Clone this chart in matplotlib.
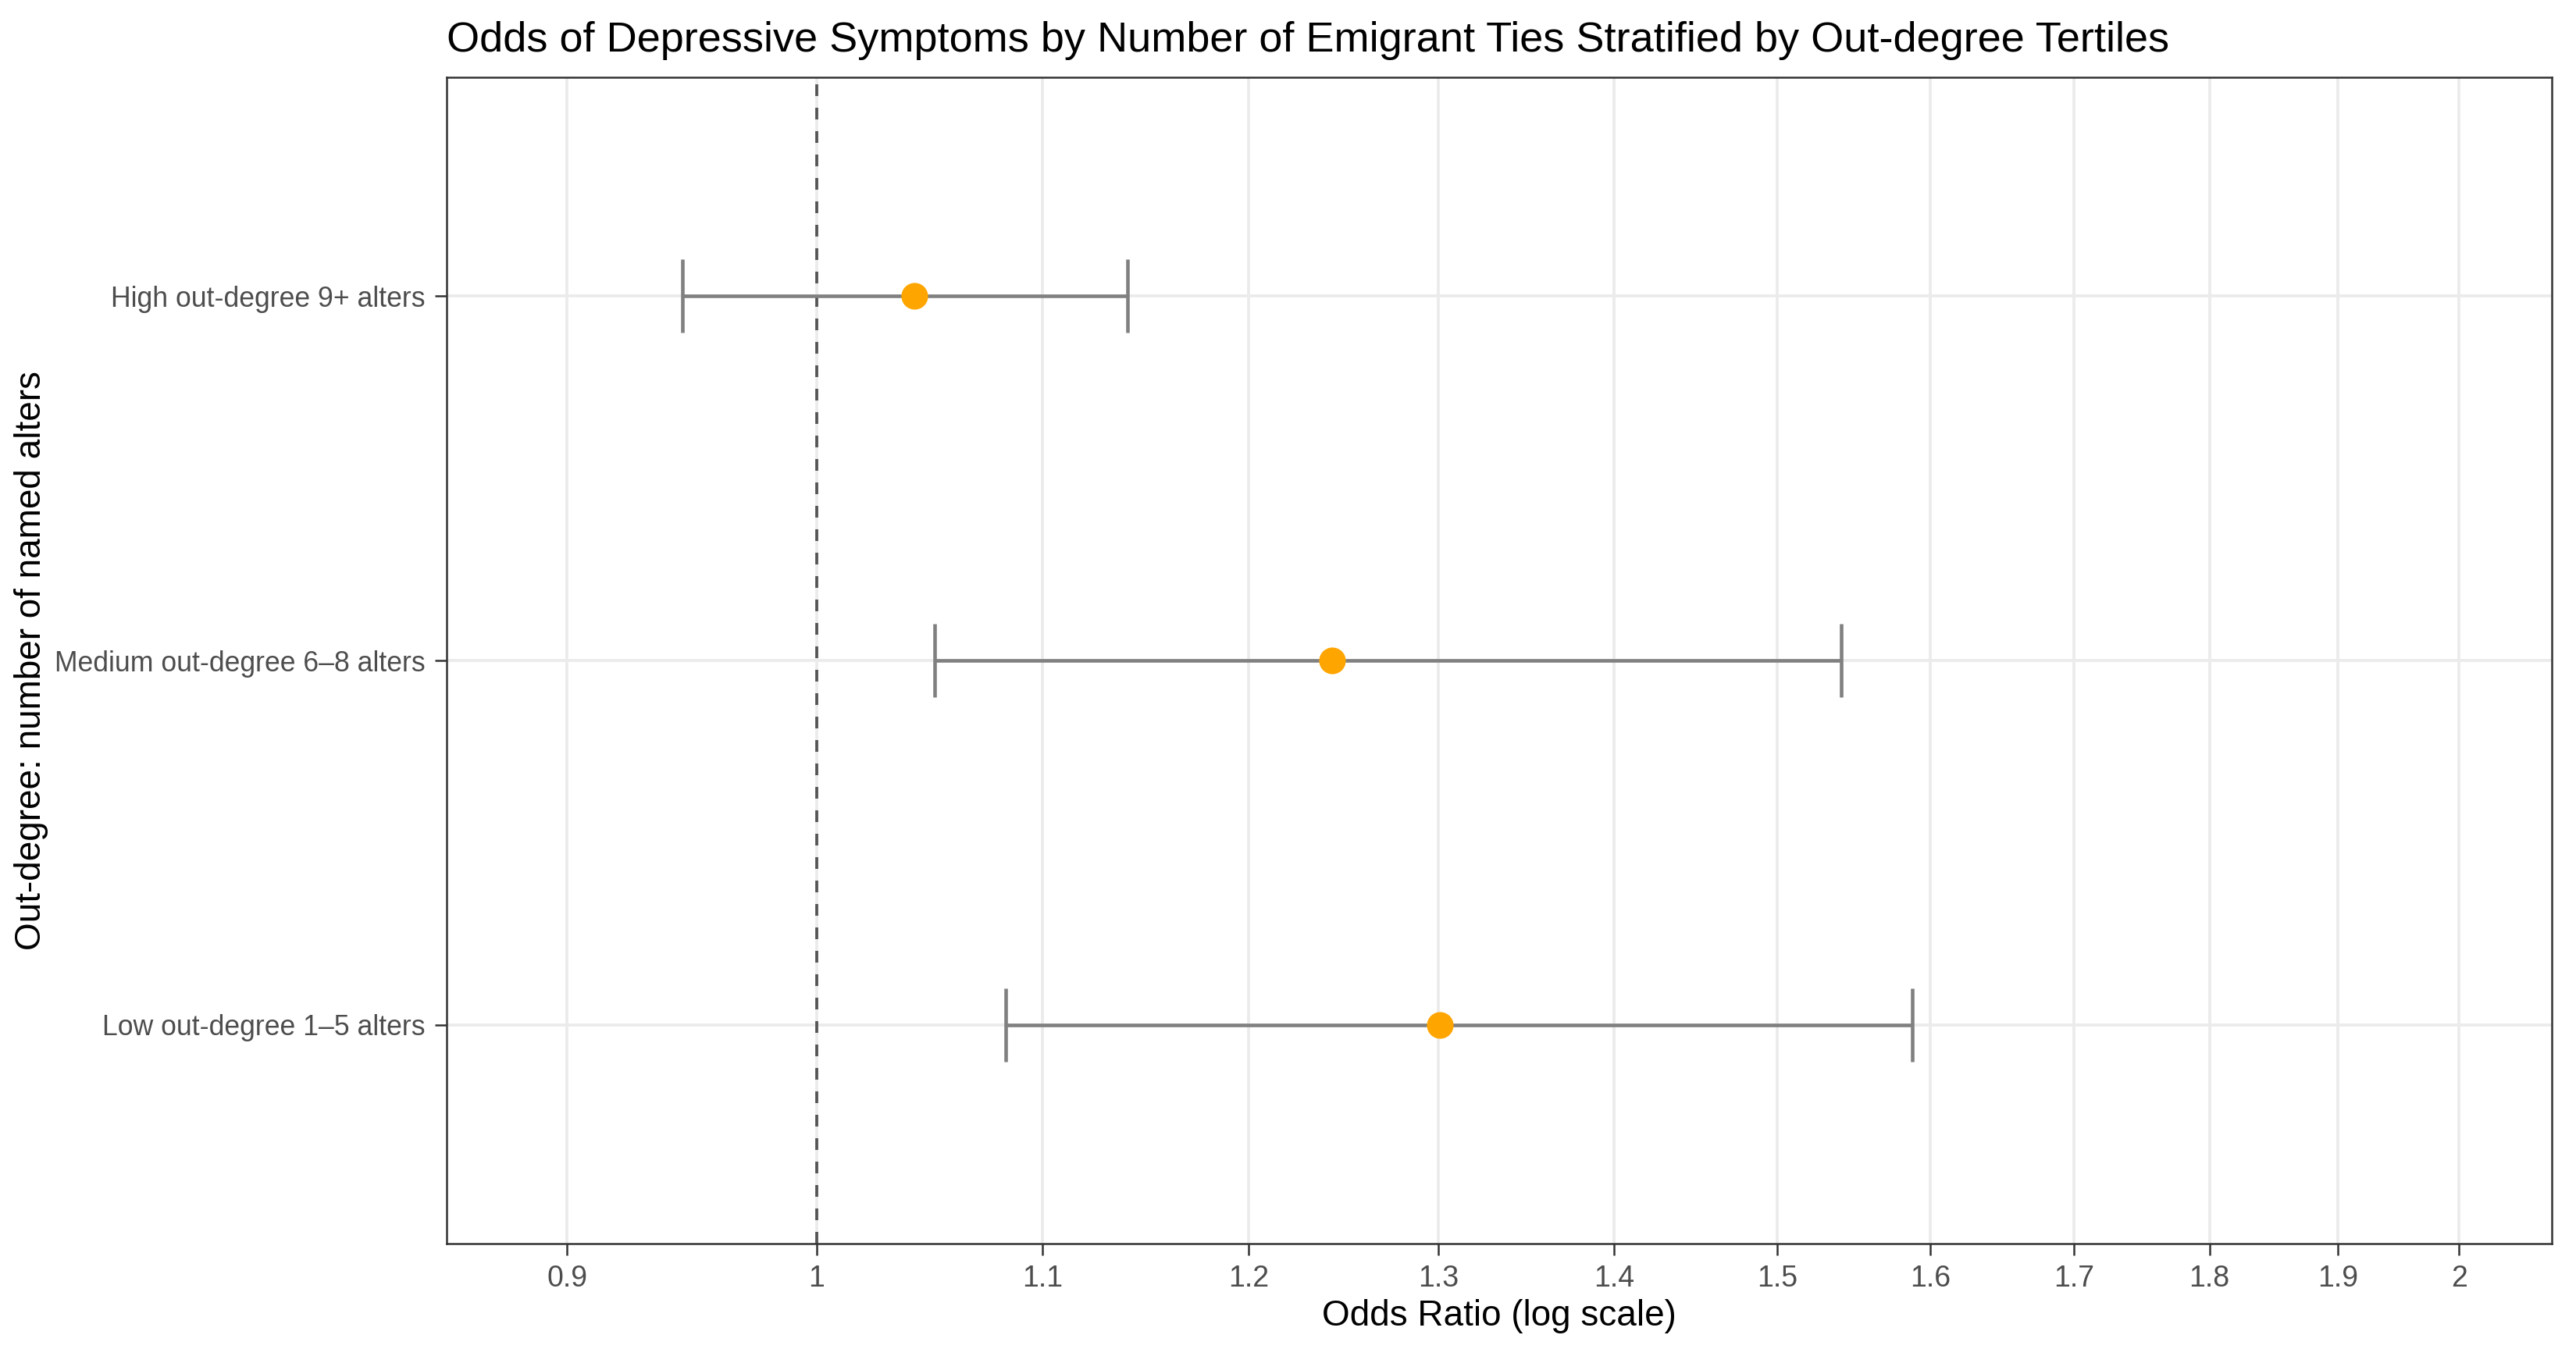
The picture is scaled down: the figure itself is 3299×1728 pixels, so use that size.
import matplotlib
matplotlib.use("Agg")
import matplotlib.pyplot as plt
import numpy as np

plt.rcParams['font.family'] = ['Liberation Sans', 'DejaVu Sans']

categories = ["Low out-degree 1\u20135 alters",
              "Medium out-degree 6\u20138 alters",
              "High out-degree 9+ alters"]
odds_ratio = [1.301, 1.243, 1.042]
ci_lower = [1.083, 1.051, 0.945]
ci_upper = [1.588, 1.541, 1.140]
x_ticks = [0.9, 1, 1.1, 1.2, 1.3, 1.4, 1.5, 1.6, 1.7, 1.8, 1.9, 2]
x_tick_labels = ["0.9", "1", "1.1", "1.2", "1.3", "1.4", "1.5", "1.6", "1.7", "1.8", "1.9", "2"]

W, H = 3299, 1728
dpi = 300
fig = plt.figure(figsize=(W / dpi, H / dpi), dpi=dpi)
ax = fig.add_axes([572 / W, 1 - 1593 / H, (3268 - 572) / W, (1593 - 99) / H])

ax.set_xscale('log')
ax.set_xlim(0.8554, 2.0797)
ax.set_ylim(-0.6, 2.6)

ypos = np.arange(len(categories))
# grid
for xt in x_ticks:
    ax.axvline(xt, color='#EBEBEB', lw=0.9, zorder=0)
for y in ypos:
    ax.axhline(y, color='#EBEBEB', lw=0.9, zorder=0)

ax.axvline(1, color='#555555', lw=0.9, ls=(0, (4, 4)), zorder=1)

ax.errorbar(odds_ratio, ypos,
            xerr=[np.array(odds_ratio) - np.array(ci_lower), np.array(ci_upper) - np.array(odds_ratio)],
            fmt='none', ecolor='#808080', elinewidth=1.1, capsize=0, zorder=2)
cap_h = 0.1
for lo, hi, y in zip(ci_lower, ci_upper, ypos):
    ax.plot([lo, lo], [y - cap_h, y + cap_h], color='#808080', lw=1.1, zorder=2, solid_capstyle='butt')
    ax.plot([hi, hi], [y - cap_h, y + cap_h], color='#808080', lw=1.1, zorder=2, solid_capstyle='butt')
ax.plot(odds_ratio, ypos, 'o', color='#FFA500', markersize=8.2, markeredgewidth=0, zorder=3)

ax.set_xticks(x_ticks)
ax.set_xticklabels(x_tick_labels)
ax.xaxis.set_minor_locator(matplotlib.ticker.NullLocator())
ax.set_yticks(ypos)
ax.set_yticklabels(categories)

ax.tick_params(axis='both', which='major', length=3.5, width=0.6, color='#333333',
               labelcolor='#4D4D4D', labelsize=9, pad=3)
ax.tick_params(axis='y', labelsize=8.55)
for s in ax.spines.values():
    s.set_color('#333333')
    s.set_linewidth(0.6)

ax.set_xlabel("Odds Ratio (log scale)", fontsize=11, color='black', labelpad=2)
ax.set_ylabel("Out-degree: number of named alters", fontsize=11, color='black')
ax.yaxis.set_label_coords(-0.189, 0.5)
ax.set_title("Odds of Depressive Symptoms by Number of Emigrant Ties Stratified by Out-degree Tertiles",
             fontsize=13, loc='left', color='black', pad=8)

fig.savefig("out.png", dpi=dpi, facecolor='white')
